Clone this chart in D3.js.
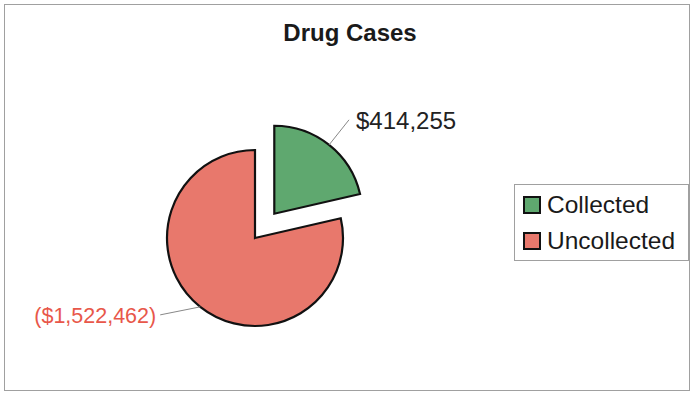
<!DOCTYPE html>
<html>
<head>
<meta charset="utf-8">
<script src="https://cdn.jsdelivr.net/npm/d3@7"></script>
<style>
  body { margin: 0; background: #fff; }
  svg { display: block; font-family: "Liberation Sans", Arial, sans-serif; }
</style>
</head>
<body>
<div id="root"></div>
<script>
// Chart data.
const categories = ['Collected', 'Uncollected'];
const amounts = [414255, 1522462];
const labels = ['$414,255', '($1,522,462)'];
const colors = ['#5fa86f', '#e8786c'];
const labelColors = ['#222222', '#e8574a'];

const width = 691;
const height = 394;

const cx = 255, cy = 238, radius = 88;
const explode = 31;

let svg = d3.select('#root')
  .append('svg')
  .attr('width', width)
  .attr('height', height);

// Outer frame.
svg.append('rect')
  .attr('x', 4.5).attr('y', 4.5)
  .attr('width', 685).attr('height', 386)
  .attr('fill', '#fff')
  .attr('stroke', '#a0a0a0')
  .attr('stroke-width', 1);

// Title.
svg.append('text')
  .attr('x', 350).attr('y', 41)
  .attr('text-anchor', 'middle')
  .attr('font-size', 24)
  .attr('font-weight', 'bold')
  .attr('fill', '#1a1a1a')
  .text('Drug Cases');

let pie = d3.pie().sort(null).value(d => d)(amounts);
let arc = d3.arc().innerRadius(0).outerRadius(radius);

let mid = d => (d.startAngle + d.endAngle) / 2;

let slices = svg.append('g')
  .attr('transform', `translate(${cx}, ${cy})`);

slices.selectAll('path')
  .data(pie)
  .enter()
  .append('path')
  .attr('d', arc)
  .attr('fill', (d, i) => colors[i])
  .attr('stroke', '#111')
  .attr('stroke-width', 2.2)
  .attr('stroke-linejoin', 'miter')
  .attr('transform', (d, i) => {
    let off = i === 0 ? explode : 0; // only the collected slice is pulled out
    return `translate(${off * Math.sin(mid(d))}, ${-off * Math.cos(mid(d))})`;
  });

// Leader lines and data labels.
let labelDefs = [
  { dx: 7, anchor: 'start', dy: 9, size: 24 },
  { dx: -4, anchor: 'end', dy: 8, size: 21.5 }
];

pie.forEach((d, i) => {
  let a = mid(d);
  let off = i === 0 ? explode : 0;
  let ox = cx + off * Math.sin(a), oy = cy - off * Math.cos(a);
  let x1 = ox + radius * Math.sin(a), y1 = oy - radius * Math.cos(a);
  let x2, y2;
  if (i === 0) {
    x2 = ox + 120 * Math.sin(a);
    y2 = oy - 120 * Math.cos(a);
  } else {
    x2 = x1 - 40;
    y2 = y1 + 8;
  }
  svg.append('line')
    .attr('x1', x1).attr('y1', y1)
    .attr('x2', x2).attr('y2', y2)
    .attr('stroke', '#888')
    .attr('stroke-width', 1);
  svg.append('text')
    .attr('x', x2 + labelDefs[i].dx)
    .attr('y', y2 + labelDefs[i].dy)
    .attr('text-anchor', labelDefs[i].anchor)
    .attr('font-size', labelDefs[i].size)
    .attr('fill', labelColors[i])
    .text(labels[i]);
});

// Legend.
let legend = svg.append('g').attr('transform', 'translate(514, 184)');

legend.append('rect')
  .attr('x', 0.5).attr('y', 0.5)
  .attr('width', 174).attr('height', 76)
  .attr('fill', '#fff')
  .attr('stroke', '#a0a0a0');

let items = legend.selectAll('g.item')
  .data(categories)
  .enter()
  .append('g')
  .attr('class', 'item')
  .attr('transform', (d, i) => `translate(10, ${13 + i * 36})`);

items.append('rect')
  .attr('width', 16).attr('height', 16)
  .attr('fill', (d, i) => colors[i])
  .attr('stroke', '#111')
  .attr('stroke-width', 2);

items.append('text')
  .attr('x', 23).attr('y', 16)
  .attr('font-size', 24.5)
  .attr('fill', '#1a1a1a')
  .text(d => d);
</script>
</body>
</html>
